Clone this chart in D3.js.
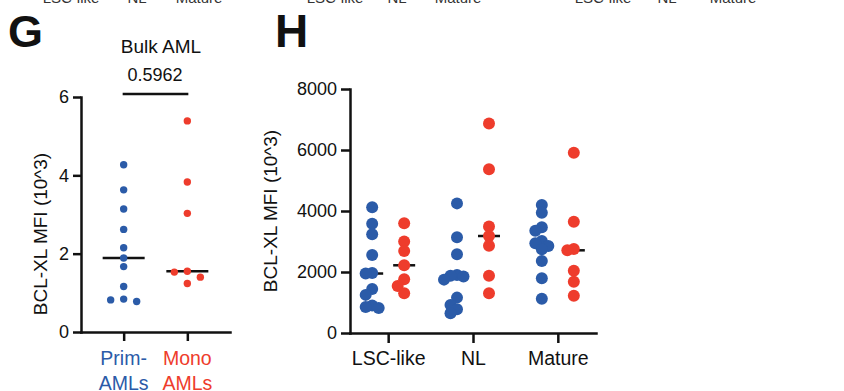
<!DOCTYPE html>
<html>
<head>
<meta charset="utf-8">
<script src="https://cdn.jsdelivr.net/npm/d3@7"></script>
<style>
  body { margin: 0; background: #fff; }
  svg { display: block; font-family: 'Liberation Sans', Arial, Helvetica, sans-serif; }
</style>
</head>
<body>
<div id="chart"></div>
<script>
// panel G : bulk AML
const gGroups = ['Prim-AMLs', 'Mono AMLs']
const gGroupLines = [['Prim-', 'AMLs'], ['Mono', 'AMLs']]
const gPrim = [4.27, 3.63, 3.14, 2.62, 2.15, 1.89, 1.67, 1.16, 0.84, 0.82, 0.78]
const gMono = [5.39, 3.83, 3.03, 1.55, 1.53, 1.40, 1.24]
const gTicks = [0, 2, 4, 6]
const gPValue = '0.5962'

// panel H : per population
const hCategories = ['LSC-like', 'NL', 'Mature']
const hPrim = [
  [4120, 3580, 3240, 2560, 1970, 1950, 1440, 1250, 900, 850, 820],
  [4250, 3140, 2580, 1900, 1880, 1850, 1750, 1160, 920, 780, 650],
  [4197, 3945, 3464, 3354, 3016, 2940, 2852, 2743, 2361, 1793, 1126],
]
const hMono = [
  [3600, 3000, 2690, 2220, 1760, 1540, 1300],
  [6870, 5370, 3490, 3180, 2860, 1880, 1300],
  [5912, 3650, 2754, 2711, 2043, 1683, 1224],
]
const hTicks = [0, 2000, 4000, 6000, 8000]

// labels of the panel above, cut by the top edge
const topLabels = ['LSC-like', 'NL', 'Mature']
const topLabelCenters = [[71, 137, 199], [335, 397, 458], [603, 667, 733]]

const blue = '#2b5ba8'
const red = '#ee3c2c'
const ink = '#111'
const axisWidth = 2.5

const svg = d3.select('#chart')
  .append('svg')
  .attr('width', 844)
  .attr('height', 391)

// simple beeswarm : columns spaced by step, shifted when values are too close
function swarm(values, y, step, minDy) {
  const placed = []
  const out = new Array(values.length)
  values
    .map((v, i) => ({ i, y: y(v), v }))
    .sort((a, b) => b.v - a.v)
    .forEach(p => {
      for (let k = 0; k < 20; k++) {
        const off = k === 0 ? 0 : (k % 2 ? -1 : 1) * Math.ceil(k / 2) * step
        if (!placed.some(q => q.off === off && Math.abs(q.y - p.y) < minDy)) {
          placed.push({ off, y: p.y })
          out[p.i] = off
          break
        }
      }
    })
  return out
}

function styleAxis(g) {
  g.select('.domain').attr('stroke', ink).attr('stroke-width', axisWidth).attr('stroke-linecap', 'square')
  g.selectAll('.tick line').attr('stroke', ink).attr('stroke-width', axisWidth)
  g.selectAll('.tick text').attr('fill', ink).style('font-size', '18px').style('font-family', null)
}

topLabelCenters.forEach(row => {
  svg.append('g')
    .selectAll('text')
    .data(topLabels)
    .join('text')
    .attr('x', (d, i) => row[i])
    .attr('y', 3)
    .attr('text-anchor', 'middle')
    .attr('fill', '#333')
    .style('font-size', '15px')
    .text(d => d)
})

// ---------- G ----------
svg.append('text')
  .attr('x', 8).attr('y', 47)
  .attr('fill', ink)
  .style('font-size', '45px').style('font-weight', 'bold')
  .text('G')

const gy = d3.scaleLinear().domain([0, 6]).range([332, 97])
const gx = d3.scalePoint().domain(gGroups).range([81, 230]).padding(0.67)

const gYAxis = svg.append('g')
  .attr('transform', 'translate(81,0)')
  .call(d3.axisLeft(gy).tickValues(gTicks).tickSize(8).tickSizeOuter(0).tickPadding(4).tickFormat(d3.format('d')))
styleAxis(gYAxis)

const gXAxis = svg.append('g')
  .attr('transform', 'translate(0,332)')
  .call(d3.axisBottom(gx).tickSize(9).tickSizeOuter(0).tickFormat(''))
styleAxis(gXAxis)

gGroupLines.forEach((lines, i) => {
  svg.append('text')
    .attr('x', gx(gGroups[i]))
    .attr('text-anchor', 'middle')
    .attr('fill', i === 0 ? blue : red)
    .style('font-size', '19.5px')
    .selectAll('tspan')
    .data(lines)
    .join('tspan')
    .attr('x', gx(gGroups[i]))
    .attr('y', (d, j) => 365 + j * 25)
    .text(d => d)
})

svg.append('text')
  .attr('transform', 'translate(47,234) rotate(-90)')
  .attr('text-anchor', 'middle')
  .attr('fill', ink)
  .style('font-size', '19px')
  .text('BCL-XL MFI (10^3)')

svg.append('text')
  .attr('x', 161).attr('y', 53)
  .attr('text-anchor', 'middle')
  .attr('fill', ink)
  .style('font-size', '19px')
  .text('Bulk AML')

svg.append('text')
  .attr('x', 155).attr('y', 81)
  .attr('text-anchor', 'middle')
  .attr('fill', ink)
  .style('font-size', '18px')
  .text(gPValue)

svg.append('line')
  .attr('x1', gx(gGroups[0]) - 1).attr('x2', gx(gGroups[1]) + 1)
  .attr('y1', 94).attr('y2', 94)
  .attr('stroke', ink).attr('stroke-width', axisWidth)

;[gPrim, gMono].forEach((vals, i) => {
  const cx = gx(gGroups[i])
  const med = d3.median(vals)
  svg.append('line')
    .attr('x1', cx - 21).attr('x2', cx + 21)
    .attr('y1', gy(med)).attr('y2', gy(med))
    .attr('stroke', ink).attr('stroke-width', axisWidth)
  const offs = swarm(vals, gy, 13, 8)
  svg.append('g')
    .selectAll('circle')
    .data(vals)
    .join('circle')
    .attr('cx', (d, j) => cx + offs[j])
    .attr('cy', d => gy(d))
    .attr('r', 3.7)
    .attr('fill', i === 0 ? blue : red)
})

// ---------- H ----------
svg.append('text')
  .attr('x', 275).attr('y', 47)
  .attr('fill', ink)
  .style('font-size', '46px').style('font-weight', 'bold')
  .text('H')

const hy = d3.scaleLinear().domain([0, 8000]).range([333, 89])
const hx = d3.scalePoint().domain(hCategories).range([350, 596]).padding(0.45)
const sub = 16

const hYAxis = svg.append('g')
  .attr('transform', 'translate(350,0)')
  .call(d3.axisLeft(hy).tickValues(hTicks).tickSize(9).tickSizeOuter(0).tickPadding(4).tickFormat(d3.format('d')))
styleAxis(hYAxis)

const hXAxis = svg.append('g')
  .attr('transform', 'translate(0,333)')
  .call(d3.axisBottom(hx).tickSize(10).tickSizeOuter(0).tickPadding(8))
styleAxis(hXAxis)
hXAxis.selectAll('.tick text').style('font-size', '19.5px').attr('dy', '0.71em')

svg.append('text')
  .attr('transform', 'translate(277,211) rotate(-90)')
  .attr('text-anchor', 'middle')
  .attr('fill', ink)
  .style('font-size', '19px')
  .text('BCL-XL MFI (10^3)')

hCategories.forEach((cat, c) => {
  ;[hPrim[c], hMono[c]].forEach((vals, i) => {
    const cx = hx(cat) + (i === 0 ? -sub : sub)
    const med = d3.median(vals)
    svg.append('line')
      .attr('x1', cx - 11).attr('x2', cx + 11)
      .attr('y1', hy(med)).attr('y2', hy(med))
      .attr('stroke', ink).attr('stroke-width', axisWidth)
    const offs = swarm(vals, hy, 6.5, 7.5)
    svg.append('g')
      .selectAll('circle')
      .data(vals)
      .join('circle')
      .attr('cx', (d, j) => cx + offs[j])
      .attr('cy', d => hy(d))
      .attr('r', 6)
      .attr('fill', i === 0 ? blue : red)
  })
})
</script>
</body>
</html>
